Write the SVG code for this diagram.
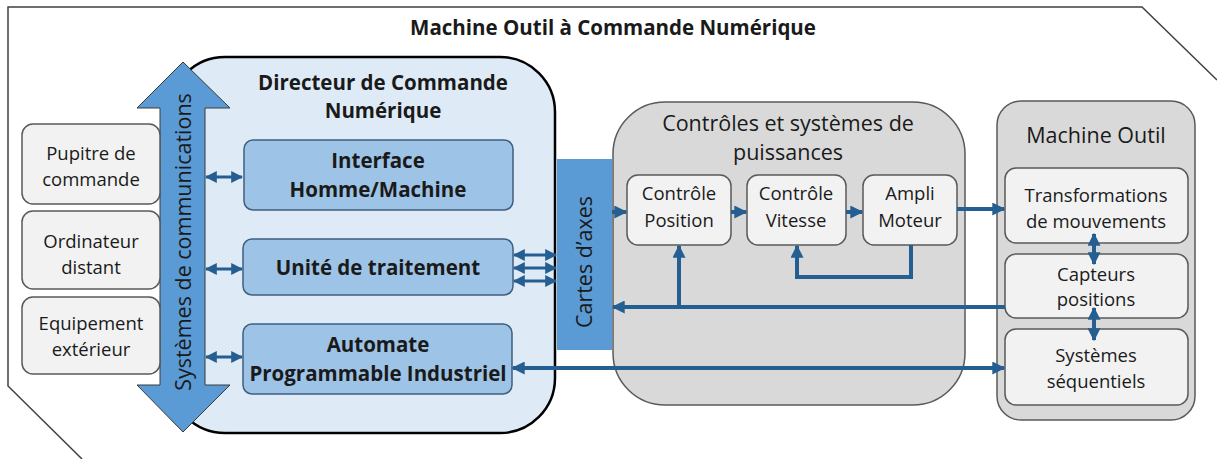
<svg xmlns="http://www.w3.org/2000/svg" width="1217" height="459" viewBox="0 0 1217 459">
<defs>
<style>
.t{font-family:"Open Sans","Liberation Sans",sans-serif;fill:#1a1a1a;text-anchor:middle}
.b{font-weight:bold;font-size:20.5px}
.s{font-size:18.5px}
.h{font-size:21.5px}
.lb{fill:#F2F2F2;stroke:#595959;stroke-width:1.5}
.ib{fill:#9DC3E6;stroke:#3f5f7f;stroke-width:1.5}
.gb{fill:#D9D9D9;stroke:#595959;stroke-width:1.5}
.c{stroke:#255E91;stroke-width:4;fill:none}
.cs{stroke:#255E91;stroke-width:3;fill:none}
</style>
<marker id="ah" viewBox="0 0 10 10" refX="9" refY="5" markerWidth="13" markerHeight="13" markerUnits="userSpaceOnUse" orient="auto-start-reverse"><path d="M0,0 L10,5 L0,10 z" fill="#255E91"/></marker>
<marker id="as" viewBox="0 0 10 10" refX="9" refY="5" markerWidth="12" markerHeight="12" markerUnits="userSpaceOnUse" orient="auto-start-reverse"><path d="M0,0 L10,5 L0,10 z" fill="#255E91"/></marker>
</defs>
<rect width="1217" height="459" fill="#fff"/>
<g id="frame">
<path d="M82,459 L8,386 L8,7 L1142,7 L1217,80" fill="none" stroke="#404040" stroke-width="1.5"/>
<text class="t b" x="613" y="35">Machine Outil à Commande Numérique</text>
</g>
<g id="dcn">
<rect x="170" y="57" width="385" height="376" rx="55" fill="#DEEBF7" stroke="#000" stroke-width="2.5"/>
<text class="t b" x="383" y="90">Directeur de Commande</text>
<text class="t b" x="383" y="118">Numérique</text>
</g>
<g id="ihm">
<rect class="ib" x="244" y="140" width="269" height="70" rx="9"/>
<text class="t b" x="378" y="168">Interface</text>
<text class="t b" x="378" y="197">Homme/Machine</text>
</g>
<g id="ut">
<rect class="ib" x="243" y="239" width="270" height="56" rx="9"/>
<text class="t b" x="378" y="275">Unité de traitement</text>
</g>
<g id="api">
<rect class="ib" x="243" y="324" width="269" height="70" rx="9"/>
<text class="t b" x="378" y="352">Automate</text>
<text class="t b" x="378" y="381">Programmable Industriel</text>
</g>
<g id="comm">
<path d="M183,62 L230,108 L205,108 L205,385 L230,385 L183,432 L137,385 L160,385 L160,108 L137,108 Z" fill="#5B9BD5" stroke="#3a3a3a" stroke-width="1"/>
<text class="t h" transform="translate(191,242) rotate(-90)">Systèmes de communications</text>
</g>
<g id="pupitre">
<rect class="lb" x="22" y="124" width="138" height="80" rx="11"/>
<text class="t s" x="91" y="160">Pupitre de</text>
<text class="t s" x="91" y="186">commande</text>
</g>
<g id="ordinateur">
<rect class="lb" x="22" y="211" width="138" height="78" rx="11"/>
<text class="t s" x="91" y="248">Ordinateur</text>
<text class="t s" x="91" y="274">distant</text>
</g>
<g id="equipement">
<rect class="lb" x="22" y="297" width="138" height="77" rx="11"/>
<text class="t s" x="91" y="330">Equipement</text>
<text class="t s" x="91" y="356">extérieur</text>
</g>
<g id="controles">
<rect class="gb" x="613" y="102" width="352" height="303" rx="52"/>
<text class="t h" x="788" y="131">Contrôles et systèmes de</text>
<text class="t h" x="788" y="160">puissances</text>
</g>
<g id="cartes">
<rect x="557" y="159" width="55" height="191" fill="#5B9BD5"/>
<text class="t h" transform="translate(592,262) rotate(-90)">Cartes d’axes</text>
</g>
<g id="cpos">
<rect class="lb" x="627" y="175" width="104" height="70" rx="11"/>
<text class="t s" x="679" y="200">Contrôle</text>
<text class="t s" x="679" y="227">Position</text>
</g>
<g id="cvit">
<rect class="lb" x="747" y="175" width="99" height="70" rx="11"/>
<text class="t s" x="796" y="200">Contrôle</text>
<text class="t s" x="796" y="227">Vitesse</text>
</g>
<g id="ampli">
<rect class="lb" x="863" y="175" width="94" height="70" rx="11"/>
<text class="t s" x="910" y="200">Ampli</text>
<text class="t s" x="910" y="227">Moteur</text>
</g>
<g id="machine">
<rect class="gb" x="997" y="101" width="198" height="319" rx="24"/>
<text class="t h" x="1096" y="143">Machine Outil</text>
</g>
<g id="transfo">
<rect class="lb" x="1005" y="168" width="183" height="75" rx="11"/>
<text class="t s" x="1096" y="202">Transformations</text>
<text class="t s" x="1096" y="228">de mouvements</text>
</g>
<g id="capteurs">
<rect class="lb" x="1005" y="254" width="183" height="64" rx="11"/>
<text class="t s" x="1096" y="281">Capteurs</text>
<text class="t s" x="1096" y="306">positions</text>
</g>
<g id="sequentiels">
<rect class="lb" x="1005" y="329" width="183" height="76" rx="11"/>
<text class="t s" x="1096" y="362">Systèmes</text>
<text class="t s" x="1096" y="388">séquentiels</text>
</g>
<g id="connectors">
<line class="cs" x1="206" y1="177" x2="242" y2="177" marker-start="url(#as)" marker-end="url(#as)"/>
<line class="cs" x1="206" y1="269" x2="242" y2="269" marker-start="url(#as)" marker-end="url(#as)"/>
<line class="cs" x1="206" y1="357" x2="242" y2="357" marker-start="url(#as)" marker-end="url(#as)"/>
<line class="cs" x1="514" y1="255" x2="556" y2="255" marker-start="url(#as)" marker-end="url(#as)"/>
<line class="cs" x1="514" y1="268" x2="556" y2="268" marker-start="url(#as)" marker-end="url(#as)"/>
<line class="cs" x1="514" y1="281" x2="556" y2="281" marker-start="url(#as)" marker-end="url(#as)"/>
<line class="c" x1="612" y1="212" x2="626" y2="212" marker-end="url(#ah)"/>
<line class="c" x1="731" y1="212" x2="746" y2="212" marker-end="url(#ah)"/>
<line class="c" x1="846" y1="212" x2="862" y2="212" marker-end="url(#ah)"/>
<line class="c" x1="957" y1="209" x2="1004" y2="209" marker-end="url(#ah)"/>
<polyline class="c" points="911,245 911,277 797,277 797,246" marker-end="url(#ah)"/>
<line class="c" x1="1005" y1="307" x2="613" y2="307" marker-end="url(#ah)"/>
<line class="c" x1="679" y1="307" x2="679" y2="246" marker-end="url(#ah)"/>
<line class="c" x1="513" y1="368" x2="1004" y2="368" marker-start="url(#ah)" marker-end="url(#ah)"/>
<line class="c" x1="1094" y1="234" x2="1094" y2="264" marker-start="url(#ah)" marker-end="url(#ah)"/>
<line class="c" x1="1094" y1="308" x2="1094" y2="340" marker-start="url(#ah)" marker-end="url(#ah)"/>
</g>
</svg>
